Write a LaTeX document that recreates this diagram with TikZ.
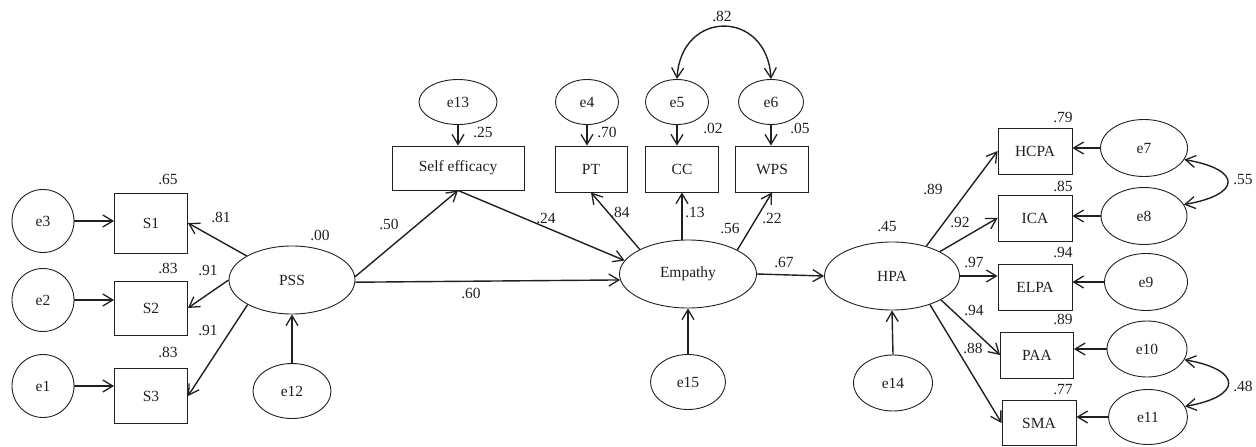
\documentclass[tikz,border=0pt]{standalone}
\usepackage{fontspec}
\setmainfont{Liberation Serif}
\usetikzlibrary{arrows.meta,shapes.geometric}
\definecolor{ink}{HTML}{231F20}
\begin{document}
\begin{tikzpicture}[x=1pt,y=-1pt,
  every node/.style={font=\fontsize{15.5}{18}\selectfont, text=ink},
  obs/.style 2 args={draw=ink, line width=0.9pt, rectangle, inner sep=0pt,
    minimum width=#1, minimum height=#2},
  lat/.style 2 args={draw=ink, line width=0.9pt, ellipse, inner sep=0pt,
    minimum width=#1, minimum height=#2},
  coef/.style={inner sep=0pt},
  path/.style={draw=ink, line width=1.4pt, -{Straight Barb[length=10pt,width=12pt,line width=1.3pt]}},
  cov/.style={draw=ink, line width=1.4pt, {Straight Barb[length=10pt,width=12pt,line width=1.3pt]}-{Straight Barb[length=10pt,width=12pt,line width=1.3pt]}}
]
\useasboundingbox (0,0) rectangle (1256,447);

% ---- perceived social support block
\node[lat={62pt}{63pt}] (e3) at (43,221) {e3};
\node[lat={62pt}{63pt}] (e2) at (43,300) {e2};
\node[lat={62pt}{63pt}] (e1) at (43,386) {e1};
\node[obs={73pt}{60pt}] (S1) at (151,223) {S1};
\node[obs={73pt}{54pt}] (S2) at (151,308) {S2};
\node[obs={73pt}{55pt}] (S3) at (151,396) {S3};
\node[lat={126pt}{68pt}] (PSS) at (292,280) {PSS};
\node[lat={78pt}{55pt}] (e12) at (292,391) {e12};

% ---- mediators
\node[lat={78pt}{45pt}] (e13) at (458,102) {e13};
\node[obs={132pt}{44pt}] (SE) at (458,168) {Self efficacy};
\node[lat={63pt}{45pt}] (e4) at (587,102) {e4};
\node[obs={72pt}{46pt}] (PT) at (591,169) {PT};
\node[lat={63pt}{45pt}] (e5) at (677,102) {e5};
\node[obs={73pt}{46pt}] (CC) at (682,169) {CC};
\node[lat={65pt}{45pt}] (e6) at (771,102) {e6};
\node[obs={73pt}{46pt}] (WPS) at (772,169) {WPS};
\node[lat={137pt}{68pt}] (Emp) at (688,274) {Empathy};
\node[lat={75pt}{55pt}] (e15) at (688,382) {e15};

% ---- outcome block
\node[lat={135pt}{68pt}] (HPA) at (892,276) {HPA};
\node[lat={79pt}{56pt}] (e14) at (893,383) {e14};
\node[obs={74pt}{46pt}] (HCPA) at (1035,151) {HCPA};
\node[obs={74pt}{46pt}] (ICA) at (1035,218) {ICA};
\node[obs={74pt}{46pt}] (ELPA) at (1035,287) {ELPA};
\node[obs={73pt}{46pt}] (PAA) at (1037,355) {PAA};
\node[obs={74pt}{45pt}] (SMA) at (1039,423) {SMA};
\node[lat={87pt}{57pt}] (e7) at (1144,148) {e7};
\node[lat={86pt}{57pt}] (e8) at (1144,216) {e8};
\node[lat={83pt}{57pt}] (e9) at (1146,282) {e9};
\node[lat={80pt}{56pt}] (e10) at (1147,349) {e10};
\node[lat={79pt}{55pt}] (e11) at (1148,417) {e11};

% ---- error terms into indicators
\draw[path] (e3.east) -- (e3.east -| S1.west);
\draw[path] (e2.east) -- (e2.east -| S2.west);
\draw[path] (e1.east) -- (e1.east -| S3.west);
\draw[path] (e12.north) -- (PSS.south);
\draw[path] (e13.south) -- (e13.south |- SE.north);
\draw[path] (e4.south) -- (e4.south |- PT.north);
\draw[path] (e5.south) -- (e5.south |- CC.north);
\draw[path] (e6.south) -- (e6.south |- WPS.north);
\draw[path] (e15.north) -- (Emp.south);
\draw[path] (e14.north) -- (HPA.south);
\draw[path] (e7.west) -- (e7.west -| HCPA.east);
\draw[path] (e8.west) -- (e8.west -| ICA.east);
\draw[path] (e9.west) -- (e9.west -| ELPA.east);
\draw[path] (e10.west) -- (e10.west -| PAA.east);
\draw[path] (e11.west) -- (e11.west -| SMA.east);

% ---- loadings and structural paths
\draw[path] (PSS.152) -- (S1.east);
\draw[path] (PSS.west) -- (S2.east);
\draw[path] (PSS.209) -- (S3.east);
\draw[path] (PSS.3) -- (SE.south);
\draw[path] (SE.south) -- (Emp.168);
\draw[path] (PSS.-2) -- (Emp.185);
\draw[path] (Emp.153) -- (PT.south);
\draw[path] (CC.south |- Emp.north) -- (CC.south);
\draw[path] (Emp.26) -- (WPS.south);
\draw[path] (Emp.east) -- (HPA.west);
\draw[path] (HPA.41) -- (HCPA.west);
\draw[path] (HPA.27) -- (ICA.west);
\draw[path] (HPA.east) -- (HPA.east -| ELPA.west);
\draw[path] (HPA.-26) -- (PAA.west);
\draw[path] (HPA.-37) -- (SMA.west);

% ---- correlated errors
\draw[cov] (e5.north) .. controls +(4,-70) and +(-4,-70) .. (e6.north);
\draw[cov] (e7.-16) .. controls +(58,10) and +(58,-10) .. (e8.16);
\draw[cov] (e10.-16) .. controls +(58,10) and +(58,-10) .. (e11.16);

% ---- coefficients
\node[coef] (c01) at (168,179) {.65};
\node[coef] (c02) at (221,217) {.81};
\node[coef] (c03) at (320,235) {.00};
\node[coef] (c04) at (168,268) {.83};
\node[coef] (c05) at (208,270) {.91};
\node[coef] (c06) at (208,330) {.91};
\node[coef] (c07) at (168,352) {.83};
\node[coef] (c08) at (389,224) {.50};
\node[coef] (c09) at (483,132) {.25};
\node[coef] (c10) at (546,218) {.24};
\node[coef] (c11) at (471,293) {.60};
\node[coef] (c12) at (607,132) {.70};
\node[coef] (c13) at (713,128) {.02};
\node[coef] (c14) at (800,128) {.05};
\node[coef] (c15) at (722,16) {.82};
\node[coef] (c16) at (620,212) {.84};
\node[coef] (c17) at (695,212) {.13};
\node[coef] (c18) at (730,228) {.56};
\node[coef] (c19) at (772,218) {.22};
\node[coef] (c20) at (784,262) {.67};
\node[coef] (c21) at (887,227) {.45};
\node[coef] (c22) at (1063,117) {.79};
\node[coef] (c23) at (1063,186) {.85};
\node[coef] (c24) at (1063,252) {.94};
\node[coef] (c25) at (1063,319) {.89};
\node[coef] (c26) at (1063,390) {.77};
\node[coef] (c27) at (933,189) {.89};
\node[coef] (c28) at (960,222) {.92};
\node[coef] (c29) at (974,262) {.97};
\node[coef] (c30) at (974,310) {.94};
\node[coef] (c31) at (973,348) {.88};
\node[coef] (c32) at (1243,180) {.55};
\node[coef] (c33) at (1243,386) {.48};
\end{tikzpicture}
\end{document}
